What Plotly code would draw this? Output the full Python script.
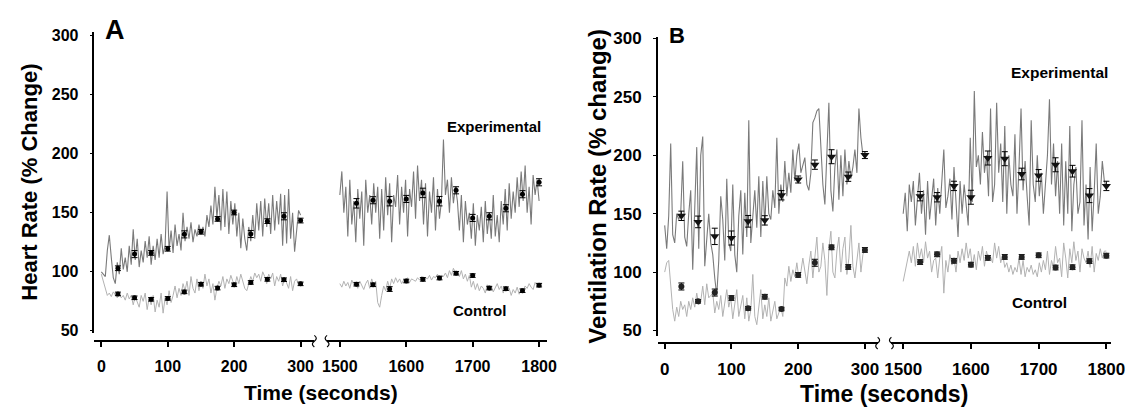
import plotly.graph_objects as go

# page is 1146x415; the browser's default 8px body margin surrounds the figure
PAGE_W, PAGE_H, OFF = 1146, 415, 8
W, H = PAGE_W - 2 * OFF, PAGE_H - 2 * OFF
FONT = "Liberation Sans, Arial, sans-serif"

# ---------------- data ----------------
t_early = list(range(0, 301, 3))
t_late = list(range(1500, 1801, 3))
t_mark_early = list(range(25, 301, 25))
t_mark_late = list(range(1525, 1801, 25))

# Panel A - heart rate traces (% change)
hr_exp_early = [100, 98, 96, 118, 131, 112, 95, 90, 108, 98,
                120, 102, 112, 100, 122, 106, 136, 110, 128, 104,
                118, 108, 126, 112, 130, 106, 122, 110, 128, 112,
                132, 115, 122, 168, 118, 135, 116, 140, 122, 132,
                118, 150, 126, 138, 128, 142, 125, 136, 130, 140,
                132, 138, 130, 148, 138, 156, 140, 172, 146, 165,
                135, 170, 138, 168, 132, 160, 140, 158, 130, 150,
                120, 145, 128, 118, 138, 126, 148, 128, 158, 135,
                160, 130, 162, 138, 158, 132, 165, 135, 160, 140,
                166, 122, 165, 124, 170, 128, 150, 117, 135, 152,
                148]
hr_ctl_early = [98, 92, 84, 80, 82, 79, 83, 80, 78, 81,
                78, 80, 76, 82, 77, 80, 72, 79, 74, 70,
                80, 75, 82, 68, 78, 72, 80, 66, 76, 70,
                82, 65, 78, 72, 84, 74, 80, 88, 78, 86,
                80, 90, 84, 92, 80, 96, 86, 82, 94, 84,
                92, 86, 98, 88, 94, 82, 90, 76, 86, 92,
                88, 96, 86, 94, 90, 97, 92, 88, 96, 90,
                98, 92, 86, 84, 90, 96, 92, 99, 95, 98,
                92, 100, 96, 90, 98, 94, 99, 88, 96, 92,
                98, 88, 95, 90, 86, 96, 84, 92, 94, 88,
                90]
hr_exp_late = [165, 185, 150, 172, 130, 178, 140, 160, 125, 170,
               145, 168, 122, 178, 150, 165, 140, 175, 150, 172,
               128, 170, 135, 180, 148, 175, 125, 165, 155, 182,
               140, 172, 150, 178, 130, 170, 155, 185, 145, 190,
               160, 178, 140, 175, 130, 168, 150, 180, 135, 170,
               145, 160, 212, 165, 178, 150, 180, 158, 172, 160,
               135, 165, 125, 160, 140, 150, 128, 158, 122, 148,
               135, 155, 125, 160, 132, 150, 128, 165, 130, 148,
               125, 160, 140, 170, 135, 175, 145, 168, 150, 180,
               155, 185, 160, 190, 150, 172, 140, 182, 165, 178,
               160]
hr_ctl_late = [90, 87, 92, 88, 91, 86, 93, 89, 90, 86,
               92, 88, 85, 90, 93, 86, 94, 88, 92, 74,
               70, 80, 88, 84, 92, 86, 94, 90, 95, 91,
               94, 90, 93, 92, 95, 91, 94, 93, 92, 95,
               93, 96, 92, 95, 94, 97, 93, 96, 95, 98,
               94, 97, 96, 99, 95, 101, 97, 103, 99, 100,
               96, 101, 94, 98, 92, 97, 87, 92, 85, 90,
               84, 88, 86, 82, 89, 84, 88, 83, 87, 90,
               85, 88, 82, 87, 84, 86, 80, 85, 82, 87,
               81, 86, 84, 88, 86, 90, 87, 85, 91, 88,
               89]

# Panel A - means +/- SEM
hr_exp_mean_early = [103, 115, 116, 119.5, 131.7, 133.9, 144.8, 150.2, 132, 142.9, 147, 143.4]
hr_exp_err_early = [2, 3, 2, 2, 3, 2, 2, 2, 3, 2, 3, 2]
hr_ctl_mean_early = [81.3, 78, 76.7, 77.5, 83, 89.5, 86.2, 89, 91, 93.6, 93.3, 89.8]
hr_ctl_err_early = [1.5, 1.5, 1.5, 1.5, 1.5, 1.5, 1.5, 1.5, 1.5, 1.5, 1.5, 1.5]
hr_exp_mean_late = [158, 160.6, 159.8, 161.7, 166.8, 159.8, 169, 145.6, 147, 153.8, 165.7, 175.8]
hr_exp_err_late = [4, 3, 4, 3, 4, 4, 3, 3, 3, 3, 3, 3]
hr_ctl_mean_late = [89.5, 89, 85.4, 92.2, 93.6, 94.7, 98.8, 96.8, 86.2, 85.7, 84, 88.7]
hr_ctl_err_late = [1.5, 1.5, 2, 1.5, 1.5, 1.5, 1.5, 1.5, 1.5, 1.5, 1.5, 1.5]

# Panel B - ventilation rate traces (% change)
vr_exp_early = [140, 120, 148, 210, 132, 125, 150, 145, 150, 195,
                130, 122, 150, 170, 102, 150, 207, 120, 200, 216,
                105, 128, 150, 125, 115, 95, 80, 110, 165, 145,
                110, 180, 125, 118, 175, 115, 100, 148, 170, 115,
                168, 130, 230, 125, 150, 170, 138, 182, 130, 178,
                140, 182, 150, 145, 170, 155, 215, 150, 175, 160,
                195, 165, 185, 168, 205, 178, 200, 210, 185, 192,
                198, 175, 170, 185, 228, 232, 238, 240, 205, 175,
                158, 200, 245, 170, 152, 190, 205, 162, 200, 165,
                205, 175, 195, 180, 190, 205, 185, 240, 215, 200,
                198]
vr_ctl_early = [100, 108, 110, 85, 68, 58, 70, 62, 75, 68,
                72, 62, 75, 68, 78, 70, 82, 72, 75, 88,
                72, 90, 78, 80, 82, 65, 75, 68, 80, 62,
                72, 85, 70, 78, 60, 72, 85, 62, 70, 80,
                60, 78, 58, 68, 98, 62, 55, 72, 85, 60,
                72, 62, 78, 58, 68, 75, 60, 66, 70, 62,
                95, 88, 105, 92, 102, 96, 108, 95, 100, 112,
                100, 90, 106, 118, 95, 112, 130, 100, 105, 125,
                110, 80, 120, 135, 100, 95, 118, 130, 100, 120,
                130, 98, 112, 140, 105, 95, 110, 125, 100, 115,
                120]
vr_exp_late = [150, 168, 135, 175, 160, 178, 140, 165, 185, 150,
               170, 132, 178, 145, 160, 180, 140, 172, 150, 175,
               205, 155, 165, 180, 145, 190, 160, 130, 178, 150,
               175, 160, 140, 215, 160, 255, 190, 200, 175, 220,
               185, 200, 165, 240, 160, 175, 245, 185, 210, 160,
               225, 150, 200, 175, 165, 218, 150, 190, 240, 170,
               195, 165, 140, 230, 175, 160, 200, 165, 185, 150,
               175, 200, 248, 175, 210, 165, 195, 150, 210, 140,
               195, 150, 225, 135, 175, 190, 150, 160, 230, 140,
               175, 128, 190, 135, 168, 210, 150, 165, 195, 178,
               172]
vr_ctl_late = [92, 100, 110, 118, 108, 122, 105, 125, 112, 120,
               108, 126, 112, 118, 100, 110, 112, 95, 112, 122,
               82, 110, 100, 115, 106, 112, 100, 118, 108, 120,
               110, 125, 112, 120, 105, 115, 102, 118, 110, 122,
               105, 118, 110, 113, 108, 125, 112, 122, 108, 115,
               104, 108, 100, 106, 98, 104, 100, 112, 98, 110,
               96, 104, 100, 106, 98, 102, 96, 108, 100, 110,
               102, 118, 98, 110, 104, 122, 108, 112, 96, 125,
               112, 95, 120, 108, 126, 110, 118, 100, 120, 112,
               108, 118, 104, 122, 100, 116, 110, 120, 112, 118,
               118]

# Panel B - means +/- SEM
vr_exp_mean_early = [148.2, 143, 130.6, 129.2, 143.5, 144.3, 165.8, 179.3, 192, 198.8, 181.7, 200.2]
vr_exp_err_early = [4, 5, 7, 6, 5, 4, 4, 3, 4, 6, 4, 3]
vr_ctl_mean_early = [87.7, 75, 82.5, 77.8, 69, 78.9, 68.4, 97.6, 108, 121.2, 104.4, 119]
vr_ctl_err_early = [3, 1.5, 3, 2, 1.5, 2, 1.5, 2, 3, 2, 2, 2]
vr_exp_mean_late = [165, 164.1, 173.8, 164.1, 197.7, 197.1, 184, 182.8, 191.9, 186.4, 165.5, 173.8]
vr_exp_err_late = [4, 4, 4, 6, 6, 6, 5, 5, 6, 5, 6, 4]
vr_ctl_mean_late = [108.6, 115.2, 109.7, 106.4, 112.2, 113, 113, 114.4, 103.9, 104.2, 109.4, 114.1]
vr_ctl_err_late = [2, 2, 2, 2, 2, 2, 2, 2, 2, 2, 2, 2]

y_ticks = [50, 100, 150, 200, 250, 300]
x_ticks_early = [0, 100, 200, 300]
x_ticks_late = [1500, 1600, 1700, 1800]

# ---------------- helpers (page pixels -> paper) ----------------
def px(x):
    return (x - OFF) / W

def py(y):
    return 1 - (y - OFF) / H

EXP_COL = "#7a7a7a"
CTL_COL = "#b2b2b2"

fig = go.Figure()

def add_line(x, y, xa, ya, col, w):
    fig.add_trace(go.Scatter(x=x, y=y, xaxis=xa, yaxis=ya, mode="lines",
                             line=dict(color=col, width=w), hoverinfo="skip", showlegend=False))

def add_marks(x, y, err, xa, ya, sym, size, col="black"):
    fig.add_trace(go.Scatter(x=x, y=y, xaxis=xa, yaxis=ya, mode="markers",
                             marker=dict(symbol=sym, size=size, color=col),
                             error_y=dict(type="data", array=err, visible=True, color="black",
                                          thickness=1, width=3),
                             showlegend=False))

# Panel A
add_line(t_early, hr_ctl_early, "x", "y", CTL_COL, 1)
add_line(t_early, hr_exp_early, "x", "y", EXP_COL, 1.1)
add_line(t_late, hr_ctl_late, "x2", "y", CTL_COL, 1)
add_line(t_late, hr_exp_late, "x2", "y", EXP_COL, 1.1)
add_marks(t_mark_early, hr_exp_mean_early, hr_exp_err_early, "x", "y", "circle", 5)
add_marks(t_mark_early, hr_ctl_mean_early, hr_ctl_err_early, "x", "y", "circle", 5)
add_marks(t_mark_late, hr_exp_mean_late, hr_exp_err_late, "x2", "y", "circle", 5)
add_marks(t_mark_late, hr_ctl_mean_late, hr_ctl_err_late, "x2", "y", "circle", 5)

# Panel B
add_line(t_early, vr_ctl_early, "x3", "y2", CTL_COL, 1)
add_line(t_early, vr_exp_early, "x3", "y2", EXP_COL, 1.1)
add_line(t_late, vr_ctl_late, "x4", "y2", CTL_COL, 1)
add_line(t_late, vr_exp_late, "x4", "y2", EXP_COL, 1.1)
add_marks(t_mark_early, vr_exp_mean_early, vr_exp_err_early, "x3", "y2", "triangle-down", 8, "#111")
add_marks(t_mark_early, vr_ctl_mean_early, vr_ctl_err_early, "x3", "y2", "circle", 6, "#222")
add_marks(t_mark_late, vr_exp_mean_late, vr_exp_err_late, "x4", "y2", "triangle-down", 8, "#111")
add_marks(t_mark_late, vr_ctl_mean_late, vr_ctl_err_late, "x4", "y2", "circle", 6, "#222")

def xaxis(dom, rng, ticks, pos, size):
    return dict(domain=[px(dom[0]), px(dom[1])], range=rng, tickvals=ticks,
                anchor="free", position=pos, showline=True, linecolor="black", linewidth=1.6,
                ticks="outside", ticklen=5, tickwidth=1.5, tickcolor="black",
                showgrid=False, zeroline=False, ticklabelstandoff=6,
                tickfont=dict(family=FONT, size=size, color="black", weight="bold"))

def yaxis(dom, rng, anchor, size):
    return dict(domain=[py(dom[1]), py(dom[0])], range=rng, tickvals=y_ticks,
                anchor=anchor, showline=True, linecolor="black", linewidth=1.6,
                ticks="outside", ticklen=3, tickwidth=1.2, tickcolor="black",
                showgrid=False, zeroline=False, ticklabelstandoff=8,
                tickfont=dict(family=FONT, size=size, color="black", weight="bold"))

fig.update_layout(
    width=W, height=H, margin=dict(l=0, r=0, t=0, b=0),
    paper_bgcolor="white", plot_bgcolor="white", showlegend=False,
    xaxis=xaxis((89, 313), [-10.3, 320.7], x_ticks_early, py(345), 16),
    xaxis2=xaxis((326, 550), [1480.8, 1811.8], x_ticks_late, py(345), 16),
    xaxis3=xaxis((663, 887), [-10.3, 319.1], x_ticks_early, py(347), 17),
    xaxis4=xaxis((901, 1125), [1482.6, 1807.2], x_ticks_late, py(347), 17),
    yaxis=yaxis((25, 337), [47.8, 302.7], "x", 16),
    yaxis2=yaxis((30, 340), [45.0, 301.1], "x3", 17),
)

def label(text, x, y, size, angle=0):
    fig.add_annotation(text=text, x=px(x), y=py(y), xref="paper", yref="paper",
                       xanchor="center", yanchor="middle", showarrow=False, textangle=angle,
                       font=dict(family=FONT, size=size, color="black", weight="bold"))

label("Heart Rate (% Change)", 23, 180, 22, -90)
label("Time (seconds)", 320, 398, 21)
label("Ventilation Rate (% change)", 602, 184, 24, -90)
label("Time (seconds)", 893, 400, 23)
label("A", 110, 23, 27)
label("B", 683, 28, 22)
label("Experimental", 496, 122, 15)
label("Control", 481, 313, 15)
label("Experimental", 1072, 67, 15.5)
label("Control", 1052, 305, 15.5)

# axis-break marks
def brk(x, ybase, right):
    d = 2 if right else -2
    path = (f"M {px(x)},{py(ybase - 6)} Q {px(x + 2 * d)},{py(ybase - 3)} {px(x)},{py(ybase)} "
            f"Q {px(x - 2 * d)},{py(ybase + 3)} {px(x)},{py(ybase + 6)}")
    fig.add_shape(type="path", path=path, xref="paper", yref="paper",
                  line=dict(color="black", width=1.2))

brk(313, 345, True)
brk(326, 345, False)
brk(887, 347, True)
brk(901, 347, False)

fig.write_html("out.html", config={"displayModeBar": False})
